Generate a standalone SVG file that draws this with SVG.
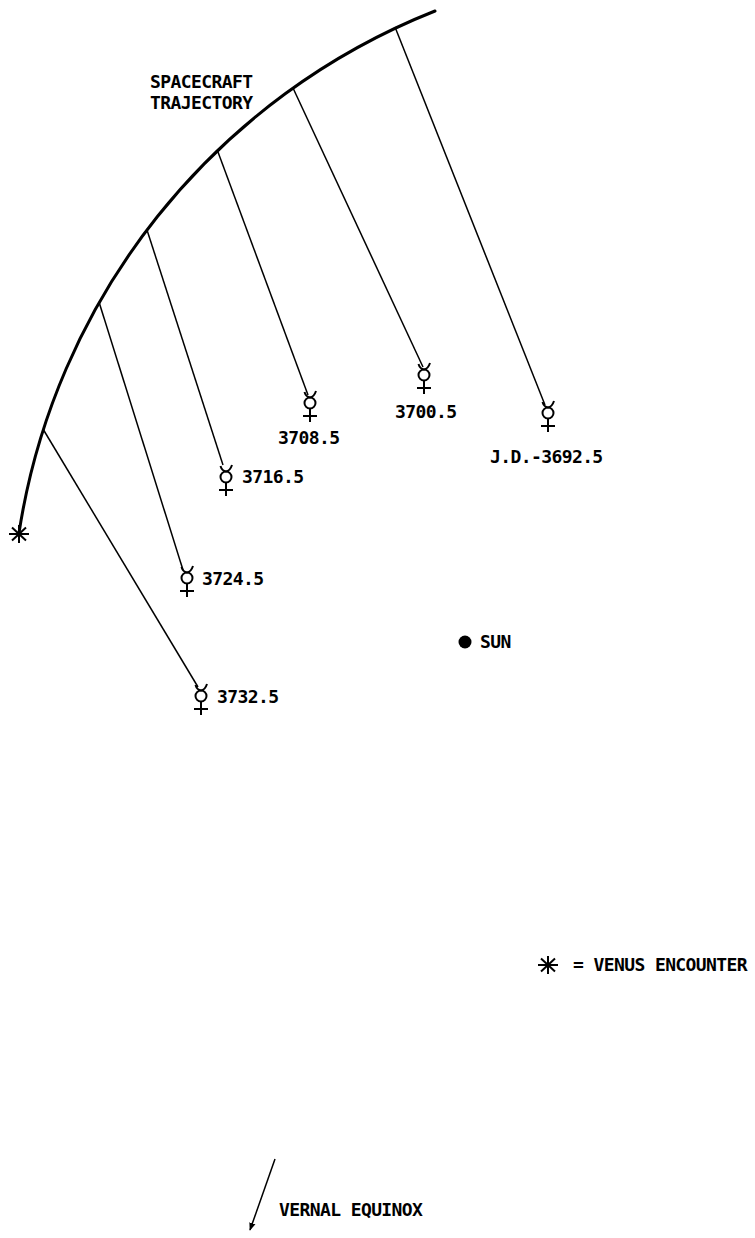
<svg xmlns="http://www.w3.org/2000/svg" width="755" height="1238" viewBox="0 0 755 1238">
<style>
.t{font-family:"DejaVu Sans Mono","Liberation Mono",monospace;font-weight:bold;font-size:18px;letter-spacing:-0.6px;fill:#000}
.traj{fill:none;stroke:#000;stroke-width:3;stroke-linecap:round}
.link{fill:none;stroke:#000;stroke-width:1.5}
.sym{fill:none;stroke:#000;stroke-width:2}
.star{stroke:#000;stroke-width:2}
</style>
<defs>
<symbol id="merc" overflow="visible">
<circle class="sym" cx="0" cy="0" r="5.5"/>
<path class="sym" d="M-5.5,-11 Q-4,-6 0,-5.5 Q4,-6 6,-12"/>
<path class="sym" d="M0,5.5 V19 M-7,13 H7"/>
</symbol>
<symbol id="ast" overflow="visible">
<path class="star" d="M-10,0 H10 M0,-9 V9 M-7,-6.5 L7,6.5 M-7,6.5 L7,-6.5"/>
</symbol>
<marker id="ah" viewBox="0 0 10 10" refX="9" refY="5" markerWidth="8" markerHeight="8" orient="auto" markerUnits="userSpaceOnUse">
<path d="M0,1 L10,5 L0,9 Z" fill="#000"/>
</marker>
</defs>
<g id="trajectory">
<path class="traj" d="M435,11 A670.5,670.5 0 0 0 19,533"/>
<text class="t" x="150" y="88">SPACECRAFT</text>
<text class="t" x="150" y="109">TRAJECTORY</text>
</g>
<g id="connectors">
<line class="link" x1="395" y1="27" x2="545" y2="405"/>
<line class="link" x1="293" y1="88" x2="423" y2="367"/>
<line class="link" x1="218" y1="152" x2="308" y2="395"/>
<line class="link" x1="147" y1="230" x2="223" y2="465"/>
<line class="link" x1="99" y1="302" x2="183" y2="570"/>
<line class="link" x1="43" y1="429" x2="198" y2="687"/>
</g>
<g id="m3692"><use href="#merc" x="548" y="413"/><text class="t" x="490" y="463">J.D.-3692.5</text></g>
<g id="m3700"><use href="#merc" x="424" y="375"/><text class="t" x="395" y="418">3700.5</text></g>
<g id="m3708"><use href="#merc" x="310" y="403"/><text class="t" x="278" y="444">3708.5</text></g>
<g id="m3716"><use href="#merc" x="226" y="477"/><text class="t" x="242" y="483">3716.5</text></g>
<g id="m3724"><use href="#merc" x="187" y="578"/><text class="t" x="202" y="585">3724.5</text></g>
<g id="m3732"><use href="#merc" x="201" y="696"/><text class="t" x="217" y="703">3732.5</text></g>
<g id="venus"><use href="#ast" x="19" y="534"/></g>
<g id="sun"><circle cx="465" cy="642" r="6.5" fill="#000"/><text class="t" x="480" y="648">SUN</text></g>
<g id="legend"><use href="#ast" x="548" y="965"/><text class="t" x="573" y="971">= VENUS ENCOUNTER</text></g>
<g id="equinox">
<line class="link" x1="275" y1="1159" x2="250" y2="1230" stroke-width="2" marker-end="url(#ah)"/>
<text class="t" x="279" y="1216">VERNAL EQUINOX</text>
</g>
</svg>
